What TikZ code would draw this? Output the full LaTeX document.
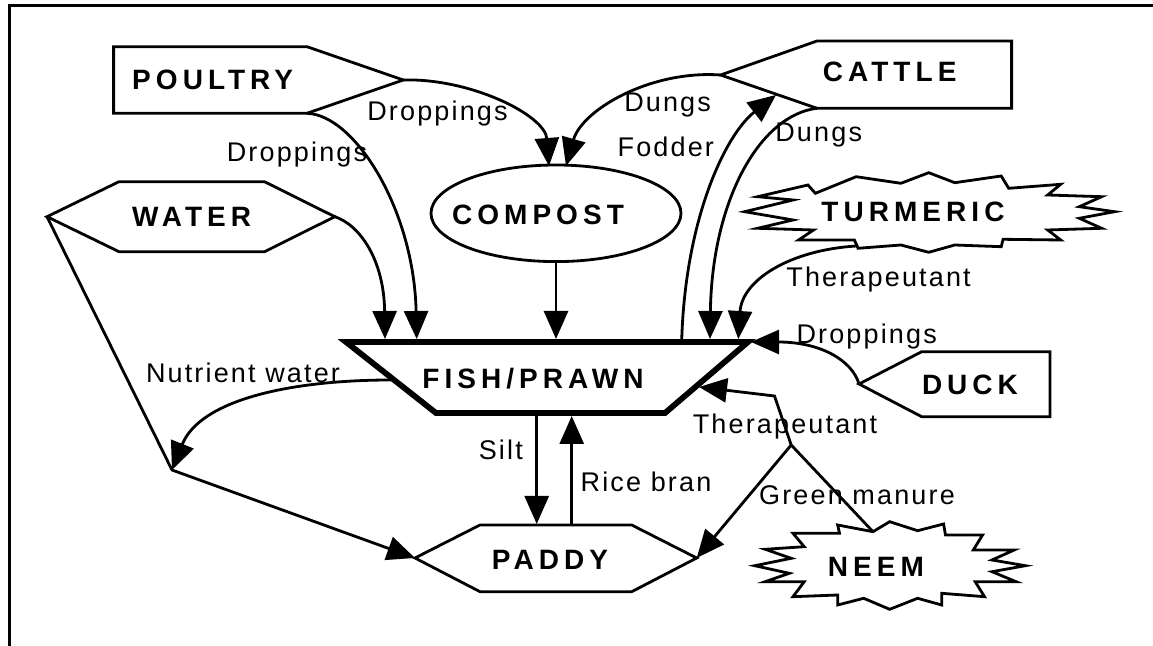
\documentclass[tikz,border=0pt]{standalone}
\usepackage{fontspec}
\setmainfont{Liberation Sans}
\newfontfamily\lblfont[LetterSpace=8]{Liberation Sans}
\newfontfamily\boxfont[LetterSpace=18]{Liberation Sans Bold}
\usetikzlibrary{arrows.meta,shapes.geometric}
\tikzset{
  conn/.style={line width=1.4pt, -{Triangle[length=14pt,width=12pt]}},
  box/.style={line width=1.4pt, line join=miter},
  thickbox/.style={line width=2.9pt, line join=miter},
  frame/.style={line width=1.5pt},
  lbl/.style={font=\lblfont\fontsize{13.5}{16}\selectfont, inner sep=0pt},
  ttl/.style={font=\boxfont\fontsize{14}{16}\selectfont, inner sep=0pt},
}
\begin{document}
\begin{tikzpicture}[x=0.5pt,y=-0.5pt]
\useasboundingbox (0,0) rectangle (1153,646);
\draw[frame] (9,646) -- (9,5.5) -- (1153,5.5);

% POULTRY
\coordinate (poultry-tip) at (403.3,80);
\coordinate (poultry-br) at (307,113.3);
\draw[box] (113.6,46.7) -- (307,46.7) -- (poultry-tip) -- (poultry-br) -- (113.6,113.3) -- cycle;
\node[ttl] (poultry) at (212.7,80) {POULTRY};

% WATER
\coordinate (water-l) at (47,216.7);
\coordinate (water-r) at (334.8,216.7);
\draw[box] (water-l) -- (119,181.7) -- (264.5,181.7) -- (water-r) -- (264.5,251.7) -- (119,251.7) -- cycle;
\node[ttl] (water) at (191.6,216.7) {WATER};

% COMPOST
\node[ellipse, draw, line width=1.4pt, minimum width=125pt, minimum height=48.3pt, inner sep=0pt] (compost) at (556,213.3) {};
\node[ttl] (compost-t) at (538,215) {COMPOST};
\coordinate (compost-in1) at (549,166);
\coordinate (compost-in2) at (566,166);

% CATTLE
\coordinate (cattle-tip) at (720.6,75);
\coordinate (cattle-bl) at (817,108.3);
\coordinate (cattle-in) at (776,95);
\draw[box] (cattle-tip) -- (817,41) -- (1011.6,41) -- (1011.6,108.3) -- (cattle-bl) -- cycle;
\node[ttl] (cattle) at (889.7,71.7) {CATTLE};

% TURMERIC
\coordinate (turm-b) at (856.5,246);
\draw[box] (744.7,211.7) -- (793,200) -- (757.7,196.7) -- (807.9,185) -- (815.4,193.3) -- (856.2,176.7) -- (900.9,183.3) -- (928.7,172.7) -- (954.8,182.7) -- (1001.2,176) -- (1008.7,188.3) -- (1060.7,184.3) -- (1047.7,195) -- (1101.6,196.7) -- (1079.3,206.7) -- (1114.6,211.7) -- (1079.3,218.3) -- (1101.6,228.3) -- (1047.7,230) -- (1060.7,240) -- (1003.1,239.3) -- (1001.2,246.7) -- (954.8,245) -- (928.7,252.3) -- (900.9,245) -- (858.1,248.3) -- (854.4,240) -- (798.6,240) -- (813.5,230) -- (757.7,228.3) -- (793,220) -- cycle;
\node[ttl] (turmeric) at (913,212) {TURMERIC};

% FISH/PRAWN
\coordinate (fish-tl) at (346,342);
\coordinate (fish-tr) at (748,342);
\coordinate (fish-br) at (665,413);
\coordinate (fish-bl) at (436,413);
\draw[thickbox] (fish-tl) -- (fish-tr) -- (fish-br) -- (fish-bl) -- cycle;
\node[ttl] (fish) at (533,379) {FISH/PRAWN};
\coordinate (f1) at (385,339);
\coordinate (f2) at (416.7,339);
\coordinate (f3) at (556,339);
\coordinate (f4) at (681.7,341);
\coordinate (f5) at (710,339);
\coordinate (f6) at (738.3,339);
\coordinate (f-duck) at (751,342);
\coordinate (f-neem) at (699,387);
\coordinate (f-left) at (391,380);
\coordinate (f-silt) at (536.7,414);
\coordinate (f-rice) at (571.7,416);

% DUCK
\coordinate (duck-tip) at (859,384);
\draw[box] (duck-tip) -- (921.7,351.7) -- (1050,351.7) -- (1050,416.7) -- (921.7,416.7) -- cycle;
\node[ttl] (duck) at (970,385) {DUCK};

% PADDY
\coordinate (paddy-l) at (415,558);
\coordinate (paddy-r) at (696.7,558);
\coordinate (paddy-silt) at (536.7,524);
\coordinate (paddy-rice) at (571.7,525);
\draw[box] (paddy-l) -- (480,525) -- (631.7,525) -- (paddy-r) -- (631.7,591.7) -- (480,591.7) -- cycle;
\node[ttl] (paddy) at (550,560) {PADDY};

% NEEM
\coordinate (neem-t) at (873,531.7);
\draw[box] (754.8,565.7) -- (791.2,558.3) -- (765.2,549.3) -- (804.2,546.7) -- (793,533.3) -- (839.5,533.3) -- (837.7,525) -- (neem-t) -- (889.7,521.7) -- (917.6,530.7) -- (943.6,524) -- (945.5,535) -- (982.6,535) -- (973.3,550) -- (1014.2,550) -- (992,560) -- (1025.4,565.7) -- (992,571.7) -- (1016.1,581.7) -- (975.2,581.7) -- (984.5,596.7) -- (941.7,593.3) -- (941.7,605) -- (917.6,598.3) -- (889.7,609.3) -- (863.7,598.3) -- (837.7,605) -- (837.7,595) -- (793,596.7) -- (804.2,581.7) -- (765.2,581.7) -- (789.3,573.3) -- cycle;
\node[ttl] (neem) at (876,566.7) {NEEM};

% junctions
\coordinate (jw) at (172,470);
\coordinate (jn) at (791.2,445);
\coordinate (bn) at (774.5,396);

% connectors
\draw[conn] (poultry-tip) .. controls (470,78) and (545,115) .. (compost-in1);
\draw[conn] (poultry-br) .. controls (355,115) and (414,210) .. (f2);
\draw[conn] (water-r) .. controls (360,225) and (384,260) .. (f1);
\draw[conn] (compost.south) -- (f3);
\draw[conn] (cattle-tip) .. controls (650,70) and (582,110) .. (compost-in2);
\draw[conn] (f4) .. controls (685,220) and (725,135) .. (cattle-in);
\draw[conn] (cattle-bl) .. controls (760,115) and (712,200) .. (f5);
\draw[conn] (turm-b) .. controls (790,250) and (742,280) .. (f6);
\draw[conn] (duck-tip) .. controls (852,360) and (820,342) .. (f-duck);
\draw[conn] (f-left) .. controls (290,380) and (200,400) .. (jw);
\draw[conn] (water-l) -- (jw) -- (paddy-l);
\draw[conn] (f-silt) -- (paddy-silt);
\draw[conn] (paddy-rice) -- (f-rice);
\draw[conn] (neem-t) -- (jn) -- (bn) -- (f-neem);
\draw[conn] (jn) -- (paddy-r);

% labels
\node[lbl] (l-drop1) at (437.5,113.3) {Droppings};
\node[lbl] (l-drop2) at (297,155) {Droppings};
\node[lbl] (l-dung1) at (667.6,105) {Dungs};
\node[lbl] (l-fodder) at (665.8,146.7) {Fodder};
\node[lbl] (l-dung2) at (818.7,135) {Dungs};
\node[lbl] (l-ther1) at (878.6,280) {Therapeutant};
\node[lbl] (l-drop3) at (866.7,336.7) {Droppings};
\node[lbl] (l-ther2) at (785,427) {Therapeutant};
\node[lbl] (l-green) at (857,495) {Green manure};
\node[lbl] (l-rice) at (646,481.7) {Rice bran};
\node[lbl] (l-silt) at (500.8,450) {Silt};
\node[lbl] (l-nutr) at (243,373.3) {Nutrient water};
\end{tikzpicture}
\end{document}
